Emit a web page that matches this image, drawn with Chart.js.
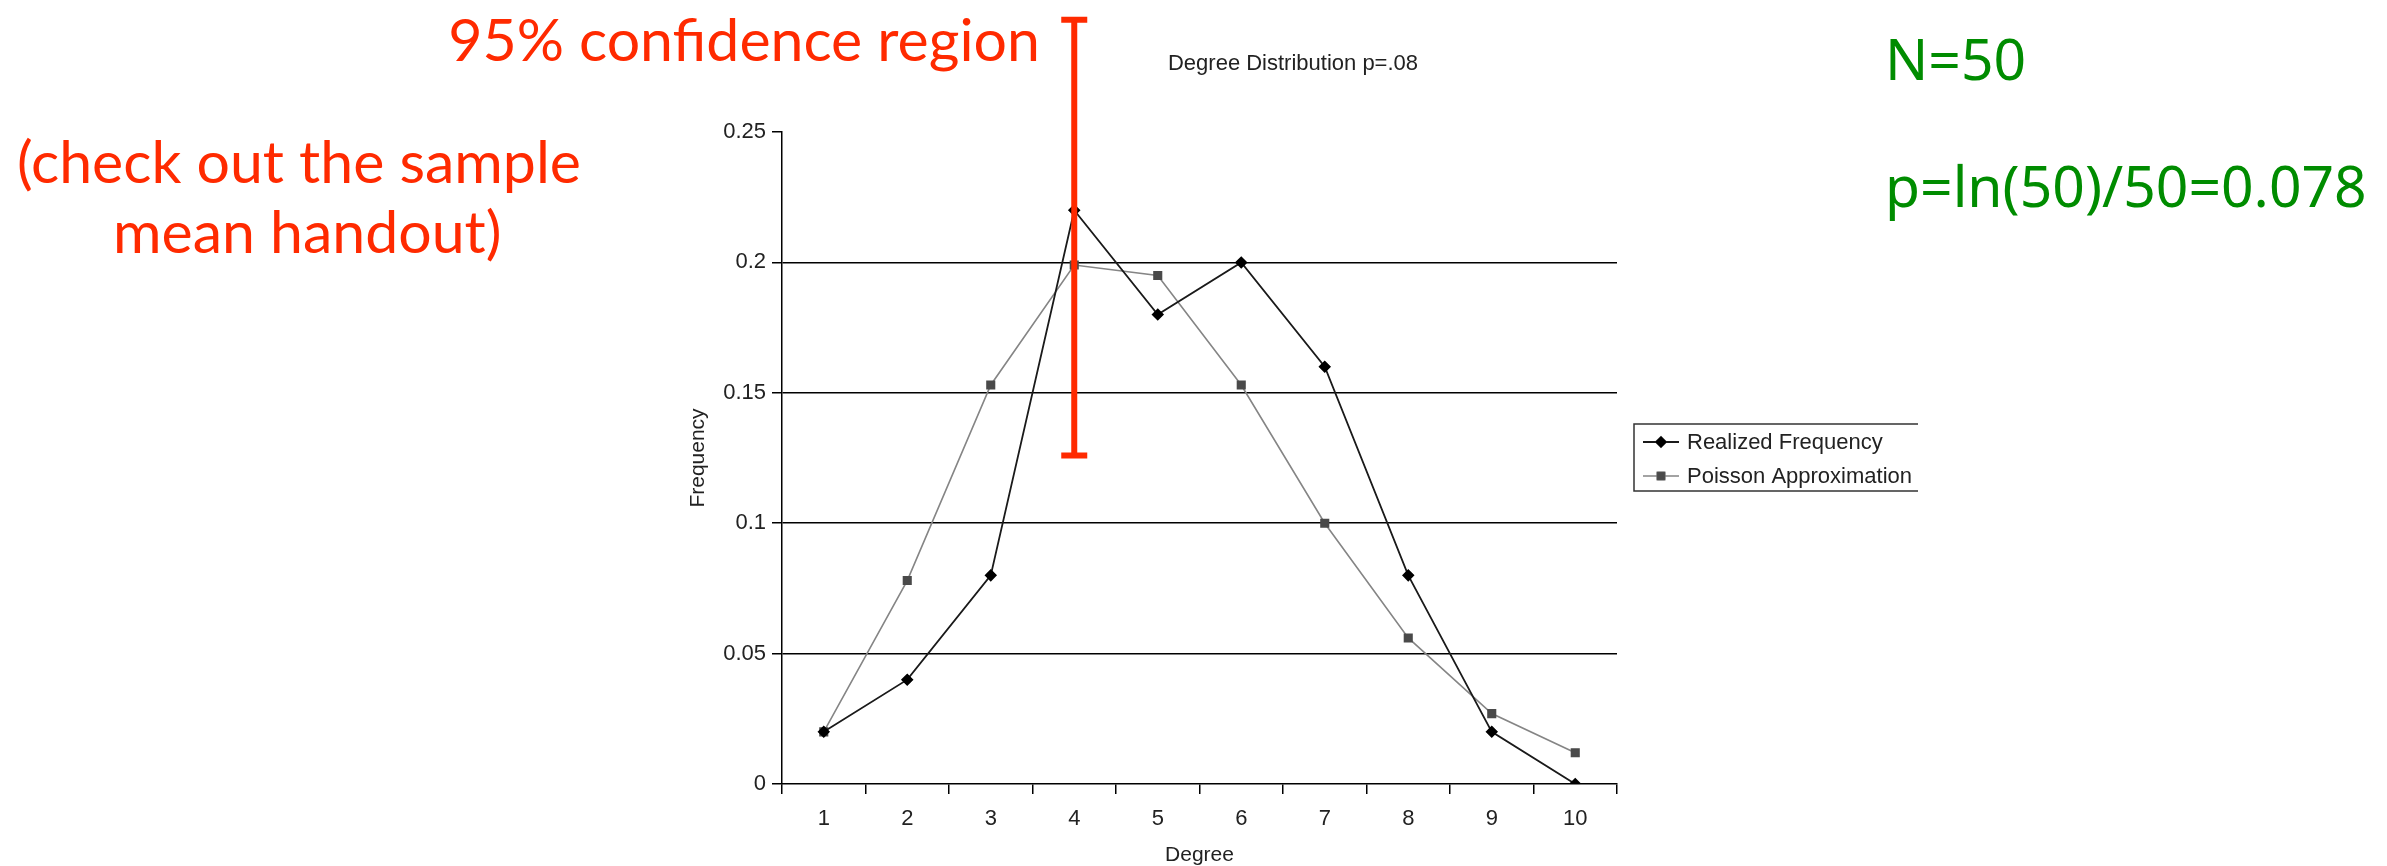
<!DOCTYPE html>
<html>
<head>
<meta charset="utf-8">
<title>Degree Distribution p=.08</title>
<script src="https://cdn.jsdelivr.net/npm/chart.js@4.4.1/dist/chart.umd.min.js"></script>
<style>
  html, body { margin: 0; padding: 0; background: #fff; }
  body { width: 2387px; height: 866px; position: relative; overflow: hidden; }
  #chart { position: absolute; left: 0; top: 0; }
  .note { position: absolute; white-space: nowrap; line-height: 1; }
  .red { color: #ff2a00; font-family: Lato, "Open Sans", sans-serif; font-size: 59px; }
  .green { color: #008c00; font-family: "Noto Sans", sans-serif; font-size: 57px; }
</style>
</head>
<body>
<canvas id="chart" width="2387" height="866"></canvas>

<div class="note red" style="right:1347px; top:9px;">95% confidence region</div>
<div class="note red" style="left:17px; top:131px;">(check out the sample</div>
<div class="note red" style="left:113px; top:201px;">mean handout)</div>
<div class="note green" style="left:1885px; top:30px;">N=50</div>
<div class="note green" style="left:1885px; top:157px;">p=ln(50)/50=0.078</div>

<script>
const degrees = ["1", "2", "3", "4", "5", "6", "7", "8", "9", "10"];
const realized = [0.02, 0.04, 0.08, 0.22, 0.18, 0.20, 0.16, 0.08, 0.02, 0];
const poisson = [0.020, 0.078, 0.153, 0.199, 0.195, 0.153, 0.100, 0.056, 0.027, 0.012];
// 95% confidence bar, only drawn at degree 4
const ciLow = [null, null, null, 0.126, null, null, null, null, null, null];
const ciHigh = [null, null, null, 0.293, null, null, null, null, null, null];
const yTicks = [0, 0.05, 0.1, 0.15, 0.2, 0.25];

Chart.defaults.font.family = "'Liberation Sans', Arial, sans-serif";
Chart.defaults.color = "#222";

// red error bar, drawn outside the clip so it can stick out above the plot
const confidenceBar = {
  id: "confidenceBar",
  afterDatasetsDraw(chart) {
    const { ctx, scales: { x, y } } = chart;
    ctx.save();
    ctx.strokeStyle = "#ff2a00";
    ctx.lineWidth = 6;
    ciLow.forEach((lo, i) => {
      if (lo == null) return;
      const px = x.getPixelForValue(i);
      const top = y.getPixelForValue(ciHigh[i]);
      const bot = y.getPixelForValue(lo);
      ctx.beginPath();
      ctx.moveTo(px, top);
      ctx.lineTo(px, bot);
      ctx.moveTo(px - 13, top);
      ctx.lineTo(px + 13, top);
      ctx.moveTo(px - 13, bot);
      ctx.lineTo(px + 13, bot);
      ctx.stroke();
    });
    ctx.restore();
  },
};

// excel style title + boxed legend with line and marker
const excelDecor = {
  id: "excelDecor",
  afterDraw(chart) {
    const { ctx, chartArea } = chart;
    ctx.save();
    ctx.fillStyle = "#222";
    ctx.font = "22px 'Liberation Sans', Arial, sans-serif";
    ctx.textAlign = "center";
    ctx.textBaseline = "middle";
    ctx.fillText("Degree Distribution p=.08", 1293, 64);

    const left = chartArea.right + 17;
    const top = 424;
    const bottom = 491;
    const right = 1918;
    ctx.strokeStyle = "#333";
    ctx.lineWidth = 1.5;
    ctx.beginPath();
    ctx.moveTo(right, top);
    ctx.lineTo(left, top);
    ctx.lineTo(left, bottom);
    ctx.lineTo(right, bottom);
    ctx.stroke();

    ctx.font = "22px 'Liberation Sans', Arial, sans-serif";
    ctx.textAlign = "left";
    chart.data.datasets.forEach((ds, i) => {
      const cy = top + 18 + i * 34;
      ctx.strokeStyle = ds.borderColor;
      ctx.lineWidth = ds.borderWidth;
      ctx.beginPath();
      ctx.moveTo(left + 9, cy);
      ctx.lineTo(left + 45, cy);
      ctx.stroke();
      Chart.helpers.drawPoint(ctx, {
        pointStyle: ds.pointStyle,
        radius: ds.pointRadius,
        borderWidth: 1,
      }, left + 27, cy);
      ctx.fillStyle = ds.pointBackgroundColor;
      ctx.strokeStyle = ds.pointBorderColor;
      ctx.lineWidth = 1;
      ctx.fill();
      ctx.stroke();
      ctx.fillStyle = "#222";
      ctx.fillText(ds.label, left + 53, cy + 1);
    });
    ctx.restore();
  },
};

new Chart(document.getElementById("chart"), {
  type: "line",
  data: {
    labels: degrees,
    datasets: [
      {
        label: "Realized Frequency",
        data: realized,
        borderColor: "#1a1a1a",
        borderWidth: 1.8,
        pointStyle: "rectRot",
        pointRadius: 5,
        pointBackgroundColor: "#000",
        pointBorderColor: "#000",
        tension: 0,
      },
      {
        label: "Poisson Approximation",
        data: poisson,
        borderColor: "#858585",
        borderWidth: 1.6,
        pointStyle: "rect",
        pointRadius: 5.3,
        pointBackgroundColor: "#4a4a4a",
        pointBorderColor: "#4a4a4a",
        tension: 0,
      },
    ],
  },
  options: {
    responsive: false,
    animation: false,
    layout: {
      padding: { left: 682, right: 770, top: 132, bottom: 0 },
    },
    scales: {
      x: {
        offset: true,
        grid: {
          offset: true,
          drawOnChartArea: false,
          color: "#000",
          lineWidth: 1.5,
          tickLength: 10,
        },
        border: { color: "#000", width: 1.5 },
        ticks: { font: { size: 22 }, color: "#222", padding: 12 },
        title: {
          display: true,
          text: "Degree",
          font: { size: 21, lineHeight: 1 },
          color: "#222",
          padding: { top: 0, bottom: 0 },
        },
        afterFit(scale) {
          scale.height = 82;
        },
      },
      y: {
        min: 0,
        max: 0.25,
        afterBuildTicks(scale) {
          scale.ticks = yTicks.map((v) => ({ value: v }));
        },
        grid: {
          color: (c) => (c.tick && (c.tick.value === 0.25 || c.tick.value === 0) ? "rgba(0,0,0,0)" : "#000"),
          tickColor: "#000",
          lineWidth: 1.5,
          tickLength: 10,
        },
        border: { color: "#000", width: 1.5 },
        ticks: {
          font: { size: 22 },
          color: "#222",
          padding: 6,
          callback: (v) => String(Number(v.toFixed(2))),
        },
        title: {
          display: true,
          text: "Frequency",
          font: { size: 21 },
          color: "#222",
          padding: { top: 4, bottom: 0 },
        },
        afterFit(scale) {
          scale.width = 100;
        },
      },
    },
    plugins: {
      legend: { display: false },
      title: { display: false },
      tooltip: { enabled: false },
    },
  },
  plugins: [confidenceBar, excelDecor],
});
</script>
</body>
</html>
